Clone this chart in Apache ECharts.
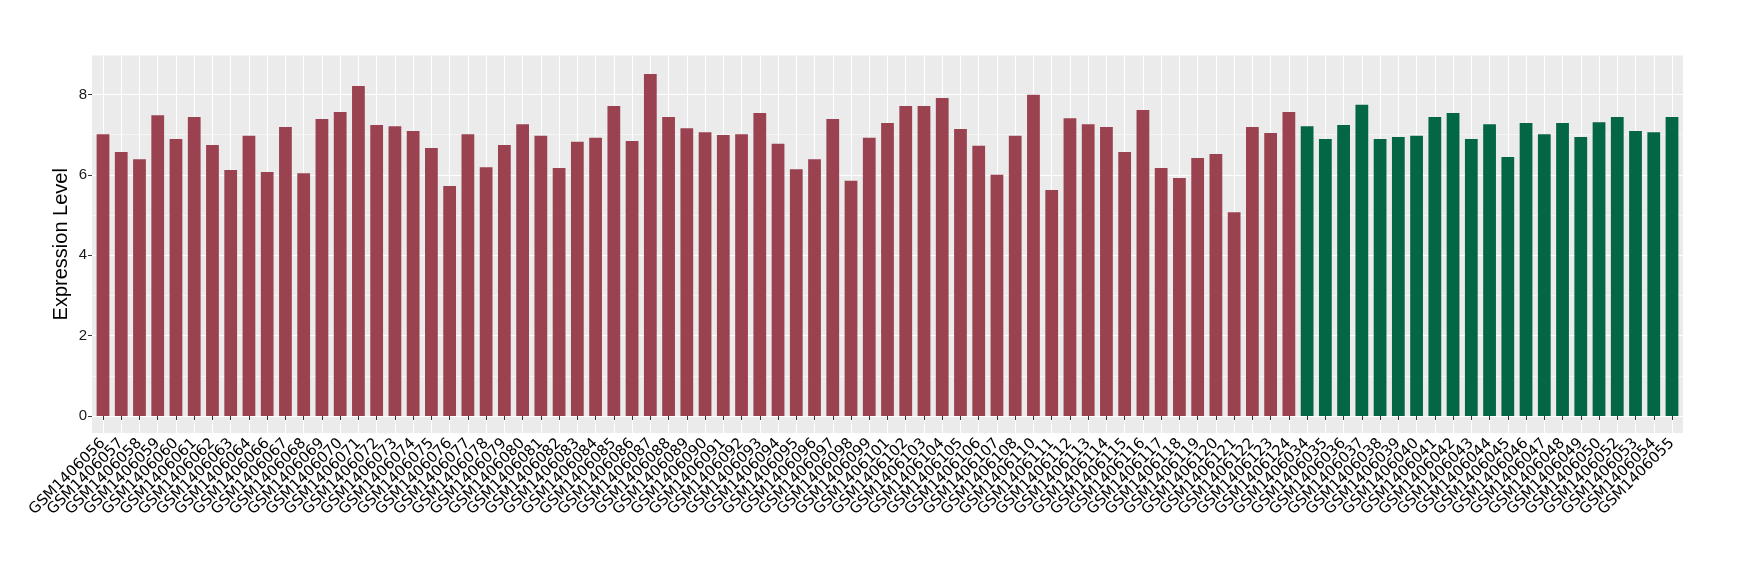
<!DOCTYPE html>
<html>
<head>
<meta charset="utf-8">
<script src="https://cdn.jsdelivr.net/npm/echarts@6/dist/echarts.min.js"></script>
<style>html,body{margin:0;padding:0;background:#fff;}#chart{width:1740px;height:580px;}</style>
</head>
<body>
<div id="chart"></div>
<script>
const categoriesRed = ["GSM1406056","GSM1406057","GSM1406058","GSM1406059","GSM1406060","GSM1406061","GSM1406062","GSM1406063","GSM1406064","GSM1406066","GSM1406067","GSM1406068","GSM1406069","GSM1406070","GSM1406071","GSM1406072","GSM1406073","GSM1406074","GSM1406075","GSM1406076","GSM1406077","GSM1406078","GSM1406079","GSM1406080","GSM1406081","GSM1406082","GSM1406083","GSM1406084","GSM1406085","GSM1406086","GSM1406087","GSM1406088","GSM1406089","GSM1406090","GSM1406091","GSM1406092","GSM1406093","GSM1406094","GSM1406095","GSM1406096","GSM1406097","GSM1406098","GSM1406099","GSM1406101","GSM1406102","GSM1406103","GSM1406104","GSM1406105","GSM1406106","GSM1406107","GSM1406108","GSM1406110","GSM1406111","GSM1406112","GSM1406113","GSM1406114","GSM1406115","GSM1406116","GSM1406117","GSM1406118","GSM1406119","GSM1406120","GSM1406121","GSM1406122","GSM1406123","GSM1406124"];
const valuesRed = [7.01,6.57,6.39,7.48,6.89,7.44,6.74,6.12,6.97,6.07,7.19,6.04,7.39,7.56,8.21,7.24,7.21,7.09,6.67,5.72,7.01,6.19,6.74,7.26,6.97,6.17,6.82,6.92,7.71,6.84,8.51,7.44,7.16,7.06,6.99,7.01,7.54,6.77,6.14,6.39,7.39,5.85,6.92,7.29,7.71,7.71,7.91,7.14,6.72,6.00,6.97,7.99,5.62,7.41,7.26,7.19,6.57,7.61,6.17,5.92,6.42,6.52,5.07,7.19,7.04,7.56];
const categoriesGreen = ["GSM1406034","GSM1406035","GSM1406036","GSM1406037","GSM1406038","GSM1406039","GSM1406040","GSM1406041","GSM1406042","GSM1406043","GSM1406044","GSM1406045","GSM1406046","GSM1406047","GSM1406048","GSM1406049","GSM1406050","GSM1406052","GSM1406053","GSM1406054","GSM1406055"];
const valuesGreen = [7.21,6.89,7.24,7.74,6.89,6.94,6.97,7.44,7.54,6.89,7.26,6.44,7.29,7.01,7.29,6.94,7.31,7.44,7.09,7.06,7.44];
const yTickValues = [0, 2, 4, 6, 8];

const colorRed = '#9B4251';
const colorGreen = '#036645';
const font = 'Liberation Sans, Arial, Helvetica, sans-serif';
const labelFont = 'DejaVu Sans, Verdana, sans-serif';

const categories = categoriesRed.concat(categoriesGreen);
const barData = valuesRed.map(v => ({value: v, itemStyle: {color: colorRed}}))
  .concat(valuesGreen.map(v => ({value: v, itemStyle: {color: colorGreen}})));

const chart = echarts.init(document.getElementById('chart'), null, {renderer: 'canvas'});
chart.setOption({
  animation: false,
  backgroundColor: '#ffffff',
  textStyle: {fontFamily: font},
  graphic: [{
    type: 'rect', z: -100, silent: true,
    shape: {x: 92, y: 55.5, width: 1591, height: 377.5},
    style: {fill: '#EBEBEB'}
  }],
  grid: [
    {left: 103, right: 68, top: 55.5, bottom: 147, containLabel: false},
    {left: 92, right: 57, top: 94.4, bottom: 164, containLabel: false}
  ],
  xAxis: [
    {
      gridIndex: 0, type: 'category', data: categories, boundaryGap: false,
      axisLine: {show: false},
      axisTick: {show: true, length: 4, lineStyle: {color: '#333333', width: 1}},
      axisLabel: {interval: 0, rotate: 45, fontSize: 15, color: '#000000', margin: 8, fontFamily: labelFont},
      splitLine: {show: true, lineStyle: {color: '#ffffff', width: 1.1}}
    },
    {gridIndex: 1, type: 'value', show: false, min: 0, max: 1}
  ],
  yAxis: [
    {
      gridIndex: 0, type: 'value', min: -0.423, max: 8.968,
      axisLine: {show: false}, axisTick: {show: false}, axisLabel: {show: false},
      splitLine: {show: false},
      name: 'Expression Level', nameLocation: 'middle', nameGap: 32,
      nameTextStyle: {fontSize: 20, color: '#000000', fontFamily: font}
    },
    {
      gridIndex: 1, type: 'value', min: yTickValues[0], max: yTickValues[yTickValues.length - 1], interval: 2,
      axisLine: {show: false},
      axisTick: {show: true, length: 4, lineStyle: {color: '#333333', width: 1}},
      axisLabel: {fontSize: 15, color: '#1A1A1A', margin: 5, fontFamily: font},
      splitLine: {show: true, lineStyle: {color: '#ffffff', width: 1.1}},
      minorTick: {show: false, splitNumber: 2},
      minorSplitLine: {show: true, lineStyle: {color: '#ffffff', width: 0.55}}
    }
  ],
  series: [{
    type: 'bar', xAxisIndex: 0, yAxisIndex: 0,
    data: barData, barWidth: '70%', clip: false
  }]
});
</script>
</body>
</html>
